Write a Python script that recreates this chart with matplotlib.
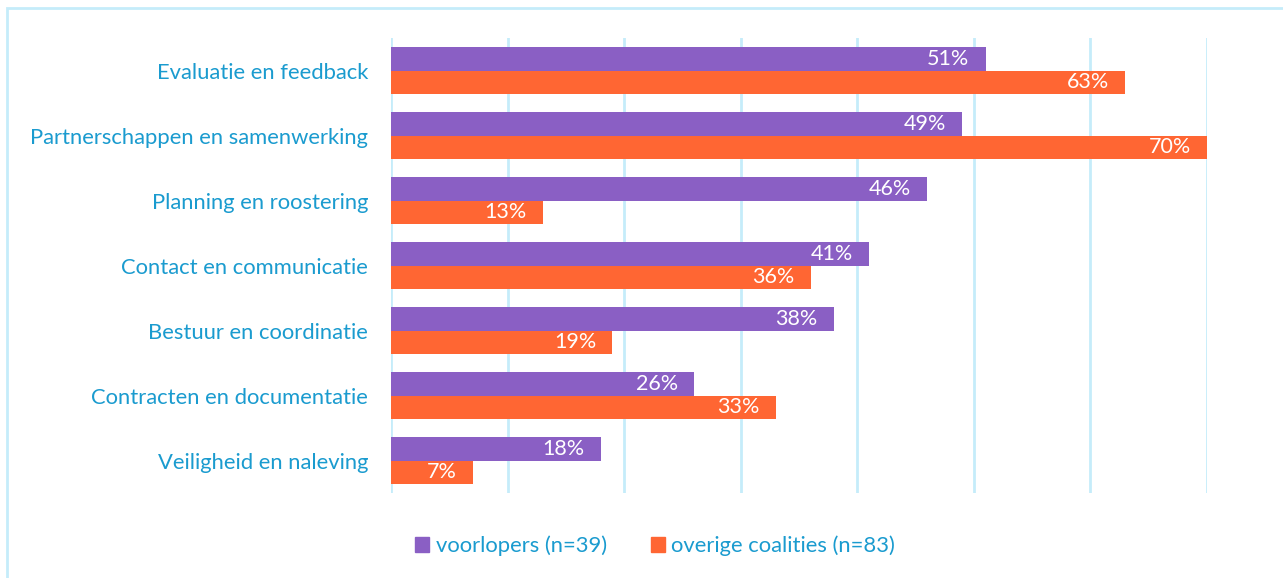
import matplotlib
matplotlib.use("Agg")
import matplotlib.pyplot as plt
from matplotlib.patches import Rectangle, Patch
import numpy as np

categories = ["Evaluatie en feedback", "Partnerschappen en samenwerking", "Planning en roostering",
              "Contact en communicatie", "Bestuur en coordinatie", "Contracten en documentatie",
              "Veiligheid en naleving"]
voorlopers = [51, 49, 46, 41, 38, 26, 18]
overige = [63, 70, 13, 36, 19, 33, 7]
series_names = ["voorlopers (n=39)", "overige coalities (n=83)"]
xticks = [0, 10, 20, 30, 40, 50, 60, 70]

purple = "#8A5FC4"
orange = "#FF6633"
blue_text = "#1A9BCF"
grid_col = "#C5ECFA"

plt.rcParams['font.family'] = ['Lato', 'DejaVu Sans']

fig = plt.figure(figsize=(12.83, 5.78), dpi=100)
fig.patches.append(Rectangle((7/1283, -0.01), 1.02, 1 - 8/578 + 0.01, transform=fig.transFigure,
                             fill=False, edgecolor=grid_col, linewidth=2))
ax = fig.add_axes([391/1283, 1 - 493/578, (1207 - 391)/1283, (493 - 38)/578])

n = len(categories)
y = np.arange(n)
h = 0.355
ax.barh(y - h/2, voorlopers, height=h, color=purple, zorder=3)
ax.barh(y + h/2, overige, height=h, color=orange, zorder=3)

for i in range(n):
    ax.text(voorlopers[i] - 1.4, y[i] - h/2, f"{voorlopers[i]}%", color="white", ha="right",
            va="center", fontsize=15.5, zorder=4)
    ax.text(overige[i] - 1.4, y[i] + h/2, f"{overige[i]}%", color="white", ha="right",
            va="center", fontsize=15.5, zorder=4)

ax.set_xlim(0, 70)
ax.set_ylim(n - 0.5, -0.5)
ax.set_xticks(xticks)
ax.set_xticklabels([])
ax.tick_params(axis='x', length=0)
ax.set_yticks(y)
ax.set_yticklabels(categories, color=blue_text, fontsize=15.8)
ax.tick_params(axis='y', length=0, pad=16.5)
ax.grid(axis='x', color=grid_col, linewidth=2, zorder=0)
for s in ax.spines.values():
    s.set_visible(False)

handles = [Patch(color=purple), Patch(color=orange)]
leg = fig.legend(handles, series_names, loc='center', bbox_to_anchor=(655/1283, 1 - 546/578),
                 ncol=2, frameon=False, fontsize=15.8, handlelength=0.65, handleheight=0.65,
                 handletextpad=0.3, columnspacing=2.0)
for t in leg.get_texts():
    t.set_color(blue_text)

fig.savefig("out.png", dpi=100)
